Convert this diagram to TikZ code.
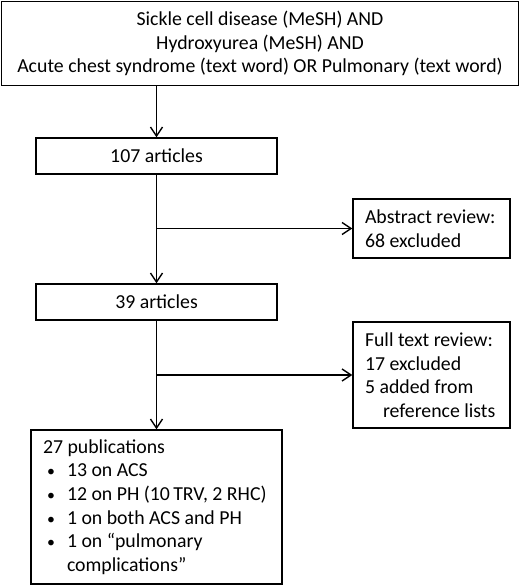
\documentclass[tikz,border=0pt]{standalone}
\usepackage{fontspec}
\setmainfont{Carlito}
\usetikzlibrary{arrows.meta}
\newcommand\bul{\makebox[24pt][l]{\hspace{4pt}\scalebox{0.8}{\textbullet}}}
\begin{document}
\begin{tikzpicture}[x=1pt,y=-1pt,
  box/.style={draw,line width=1.4pt,inner sep=0pt,font=\fontsize{19.8}{23.6}\selectfont},
  lbox/.style={box,inner xsep=12pt,align=flush left},
  conn/.style={line width=1.4pt,-{Straight Barb[length=9pt,width=12pt,line width=1.4pt]}}]
\useasboundingbox (0,0) rectangle (520,586);
\node[box,minimum width=517pt,minimum height=83.5pt,align=center] (top) at (260,43.5)
  {Sickle cell disease (MeSH) AND\\Hydroxyurea (MeSH) AND\\Acute chest syndrome (text word) OR Pulmonary (text word)};
\node[box,minimum width=241pt,minimum height=36pt] (a107) at (156.5,156) {107 articles};
\node[lbox,minimum width=157pt,minimum height=59pt,text width=133pt] (abs) at (431.5,228.5)
  {Abstract review:\\68 excluded};
\node[box,minimum width=241pt,minimum height=36pt] (a39) at (156.5,302) {39 articles};
\node[lbox,minimum width=157pt,minimum height=106pt,text width=133pt] (full) at (431.5,375)
  {Full text review:\\17 excluded\\5 added from\\\hspace*{18pt}reference lists};
\node[lbox,minimum width=251pt,minimum height=154pt,text width=227pt] (pub) at (156.5,507)
  {27 publications\\\bul13 on ACS\\\bul12 on PH (10\,TRV, 2~RHC)\\\bul1 on both ACS and PH\\\bul1 on “pulmonary\\\hspace*{24pt}complications”};
\coordinate (b1) at (156,228.5);
\coordinate (b2) at (156,375);
\draw[conn] (a107.north |- top.south) -- (a107.north);
\draw[conn] (a107.south) -- (a39.north);
\draw[conn] (b1) -- (abs.west);
\draw[conn] (a39.south) -- (a39.south |- pub.north);
\draw[conn] (b2) -- (full.west);
\end{tikzpicture}
\end{document}
